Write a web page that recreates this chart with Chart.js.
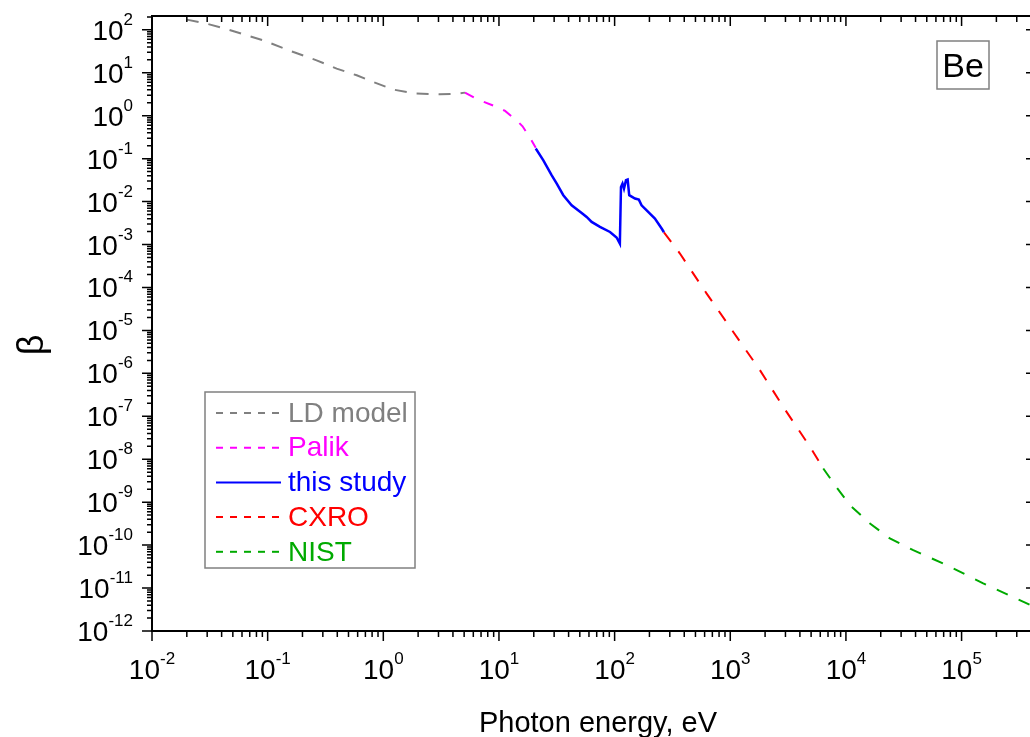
<!DOCTYPE html>
<html>
<head>
<meta charset="utf-8">
<script src="https://cdn.jsdelivr.net/npm/chart.js@4.4.1/dist/chart.umd.min.js"></script>
<style>
  html, body { margin: 0; padding: 0; background: #fff; overflow: hidden; }
  #wrap { position: relative; width: 1050px; height: 737px; }
</style>
</head>
<body>
<div id="wrap"><canvas id="chart"></canvas></div>
<script>
// Be, imaginary part of refractive index (beta) vs photon energy
const ldEnergy = [0.02, 0.0297, 0.0428, 0.0916, 0.167, 0.265, 0.395, 0.589, 0.819, 1.22, 1.94, 3.09, 4.31, 5.08];
const ldBeta = [173, 139, 107, 57, 30.4, 19.5, 12.5, 8.73, 6.1, 4.06, 3.27, 3.15, 3.27, 3.45];

const palikEnergy = [5.08, 6.62, 9.55, 11.3, 14.2, 16.0, 18.5, 20.8];
const palikBeta = [3.45, 2.37, 1.6, 1.29, 0.78, 0.567, 0.31, 0.18];

const studyEnergy = [20.8, 24.2, 28.6, 31.6, 36.0, 42.5, 51.9, 57.3, 63.3, 74.7, 91.2, 104, 111,
  113.5, 117, 120.5, 125.4, 129.6, 133.7, 150, 162, 171, 195, 223, 255, 267];
const studyBeta = [0.172, 0.0917, 0.041, 0.0263, 0.0141, 0.00822, 0.00545, 0.00439, 0.00336, 0.00257, 0.00196, 0.00146, 0.00105,
  0.0219, 0.0263, 0.0201, 0.0314, 0.0326, 0.0141, 0.0118, 0.0111, 0.00822, 0.00574, 0.00403, 0.00236, 0.00193];

const cxroEnergy = [267, 367, 625, 1062, 1804, 2870, 4885, 6370];
const cxroBeta = [0.00193, 6.17e-4, 7.2e-5, 9.2e-6, 1.19e-6, 1.66e-7, 1.95e-8, 6.1e-9];

const nistEnergy = [6370, 8035, 10836, 16140, 23990, 38190, 74200, 153800, 390000, 450000];
const nistBeta = [6.1e-9, 2.5e-9, 8.5e-10, 3.2e-10, 1.43e-10, 7.65e-11, 3.43e-11, 1.29e-11, 4.05e-12, 3.4e-12];

const xTickExps = [-2, -1, 0, 1, 2, 3, 4, 5];
const yTickExps = [-12, -11, -10, -9, -8, -7, -6, -5, -4, -3, -2, -1, 0, 1, 2];

const FONT = '"Liberation Sans", Arial, sans-serif';

function pts(xs, ys) {
  return xs.map((x, i) => ({ x, y: ys[i] }));
}

function series(label, xs, ys, color, dash, width) {
  return {
    label,
    data: pts(xs, ys),
    borderColor: color,
    borderWidth: width || 2,
    borderDash: dash,
    pointRadius: 0,
    tension: 0,
    fill: false,
  };
}

// "10" with a raised exponent
function drawPow(ctx, exp, x, baseline, align) {
  ctx.font = `28px ${FONT}`;
  const wb = ctx.measureText('10').width;
  ctx.font = `17px ${FONT}`;
  const es = String(exp);
  const we = ctx.measureText(es).width;
  let x0 = align === 'center' ? x - (wb + we) / 2 : x - wb - we;
  ctx.textAlign = 'left';
  ctx.textBaseline = 'alphabetic';
  ctx.font = `28px ${FONT}`;
  ctx.fillText('10', x0, baseline);
  ctx.font = `17px ${FONT}`;
  ctx.fillText(es, x0 + wb, baseline - 15);
}

function logTicks(scale) {
  const out = [];
  const lo = Math.floor(Math.log10(scale.min));
  const hi = Math.ceil(Math.log10(scale.max));
  for (let d = lo; d <= hi; d++) {
    for (let m = 1; m <= 9; m++) {
      const v = m * Math.pow(10, d);
      if (v < scale.min * 0.9999 || v > scale.max * 1.0001) continue;
      out.push({ v, major: m === 1 });
    }
  }
  return out;
}

const frame = {
  id: 'frame',
  afterDraw(chart) {
    const { ctx, chartArea: a } = chart;
    const xs = chart.scales.x, ys = chart.scales.y;
    ctx.save();

    // axis box
    ctx.strokeStyle = '#000';
    ctx.lineWidth = 2;
    ctx.strokeRect(a.left, a.top, a.right - a.left, a.bottom - a.top);

    // ticks: out on bottom/left, in on top/right
    ctx.lineWidth = 1.5;
    ctx.beginPath();
    logTicks(xs).forEach((t) => {
      const px = xs.getPixelForValue(t.v);
      const len = t.major ? 10 : 6;
      ctx.moveTo(px, a.bottom); ctx.lineTo(px, a.bottom + len);
      ctx.moveTo(px, a.top); ctx.lineTo(px, a.top + len);
    });
    logTicks(ys).forEach((t) => {
      const py = ys.getPixelForValue(t.v);
      const len = t.major ? 10 : 5;
      ctx.moveTo(a.left - len, py); ctx.lineTo(a.left, py);
      ctx.moveTo(a.right - len, py); ctx.lineTo(a.right, py);
    });
    ctx.stroke();

    // tick labels
    ctx.fillStyle = '#000';
    xTickExps.forEach((e) => drawPow(ctx, e, xs.getPixelForValue(Math.pow(10, e)), 679, 'center'));
    yTickExps.forEach((e) => drawPow(ctx, e, 133, ys.getPixelForValue(Math.pow(10, e)) + 10, 'right'));

    // axis titles
    ctx.textAlign = 'center';
    ctx.textBaseline = 'alphabetic';
    ctx.font = `29px ${FONT}`;
    ctx.fillText('Photon energy, eV', 598, 732);
    ctx.save();
    ctx.translate(33, 345);
    ctx.rotate(-Math.PI / 2);
    ctx.textBaseline = 'middle';
    ctx.font = `36px ${FONT}`;
    ctx.fillText('β', 0, 0);
    ctx.restore();

    // element label
    ctx.strokeStyle = '#808080';
    ctx.lineWidth = 1.5;
    ctx.strokeRect(937, 41, 52, 48);
    ctx.fillStyle = '#000';
    ctx.font = `34px ${FONT}`;
    ctx.textAlign = 'center';
    ctx.fillText('Be', 963, 77);

    // legend
    ctx.strokeRect(205, 392, 210, 176);
    ctx.textAlign = 'left';
    ctx.textBaseline = 'middle';
    ctx.font = `28px ${FONT}`;
    chart.data.datasets.forEach((ds, i) => {
      const cy = 413 + i * 34.7;
      ctx.strokeStyle = ds.borderColor;
      ctx.lineWidth = 2;
      ctx.setLineDash(ds.borderDash.length ? [7, 7] : []);
      ctx.beginPath();
      ctx.moveTo(216, cy); ctx.lineTo(281, cy);
      ctx.stroke();
      ctx.setLineDash([]);
      ctx.fillStyle = ds.borderColor;
      ctx.fillText(ds.label, 288, cy + 1);
    });

    ctx.restore();
  },
};

new Chart(document.getElementById('chart'), {
  type: 'line',
  data: {
    datasets: [
      series('LD model', ldEnergy, ldBeta, '#808080', [12, 10]),
      series('Palik', palikEnergy, palikBeta, '#ff00ff', [10, 11]),
      series('this study', studyEnergy, studyBeta, '#0000ff', [], 2.5),
      series('CXRO', cxroEnergy, cxroBeta, '#ff0000', [12, 12]),
      series('NIST', nistEnergy, nistBeta, '#00aa00', [12, 12]),
    ],
  },
  options: {
    responsive: true,
    maintainAspectRatio: false,
    animation: false,
    layout: { padding: { left: 152, top: 16, right: 14, bottom: 106 } },
    plugins: { legend: { display: false }, tooltip: { enabled: false } },
    scales: {
      x: { type: 'logarithmic', min: 0.01, max: 4.4e5, display: false },
      y: { type: 'logarithmic', min: 1e-12, max: 210, display: false },
    },
  },
  plugins: [frame],
});
</script>
</body>
</html>
